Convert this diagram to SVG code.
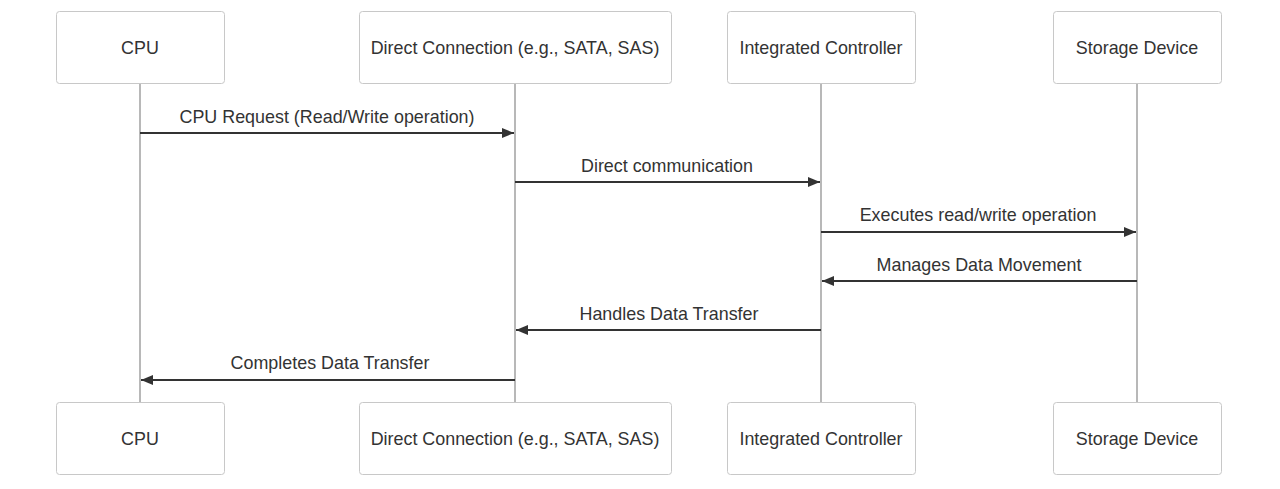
<svg xmlns="http://www.w3.org/2000/svg" width="1280" height="489" viewBox="0 0 1280 489">
<style>
.box{fill:#ffffff;stroke:#c8c8c8;stroke-width:1}
.life{stroke:#b8b8b8;stroke-width:2}
.t{font-family:"Liberation Sans",Arial,sans-serif;font-size:17.9px;fill:#333333;text-anchor:middle;dominant-baseline:central}
.msg{stroke:#333333;stroke-width:2;fill:none}
.ml{font-family:"Liberation Sans",Arial,sans-serif;font-size:17.9px;fill:#333333;text-anchor:middle}
</style>
<defs>
<marker id="ah" viewBox="0 0 12 10" refX="12" refY="5" markerWidth="12" markerHeight="10" markerUnits="userSpaceOnUse" orient="auto">
<path d="M0,0 L12,5 L0,10 z" fill="#333333"/>
</marker>
</defs>
<g id="lifelines">
<line class="life" x1="140" y1="83" x2="140" y2="402"/>
<line class="life" x1="515" y1="83" x2="515" y2="402"/>
<line class="life" x1="821" y1="83" x2="821" y2="402"/>
<line class="life" x1="1137" y1="83" x2="1137" y2="402"/>
</g>
<g id="cpu-top"><rect class="box" x="56.5" y="11.5" width="168" height="72" rx="3"/><text class="t" x="140" y="47.5">CPU</text></g>
<g id="dc-top"><rect class="box" x="359.5" y="11.5" width="312" height="72" rx="3"/><text class="t" x="515" y="47.5">Direct Connection (e.g., SATA, SAS)</text></g>
<g id="ic-top"><rect class="box" x="727.5" y="11.5" width="188" height="72" rx="3"/><text class="t" x="821" y="47.5">Integrated Controller</text></g>
<g id="sd-top"><rect class="box" x="1053.5" y="11.5" width="168" height="72" rx="3"/><text class="t" x="1137" y="47.5">Storage Device</text></g>
<g id="cpu-bottom"><rect class="box" x="56.5" y="402.5" width="168" height="72" rx="3"/><text class="t" x="140" y="438.5">CPU</text></g>
<g id="dc-bottom"><rect class="box" x="359.5" y="402.5" width="312" height="72" rx="3"/><text class="t" x="515" y="438.5">Direct Connection (e.g., SATA, SAS)</text></g>
<g id="ic-bottom"><rect class="box" x="727.5" y="402.5" width="188" height="72" rx="3"/><text class="t" x="821" y="438.5">Integrated Controller</text></g>
<g id="sd-bottom"><rect class="box" x="1053.5" y="402.5" width="168" height="72" rx="3"/><text class="t" x="1137" y="438.5">Storage Device</text></g>
<g id="connectors">
<line class="msg" x1="140" y1="133" x2="514" y2="133" marker-end="url(#ah)"/>
<text class="ml" x="327" y="123">CPU Request (Read/Write operation)</text>
<line class="msg" x1="515" y1="182" x2="820" y2="182" marker-end="url(#ah)"/>
<text class="ml" x="667" y="172">Direct communication</text>
<line class="msg" x1="821" y1="232" x2="1136" y2="232" marker-end="url(#ah)"/>
<text class="ml" x="978" y="221">Executes read/write operation</text>
<line class="msg" x1="1137" y1="281" x2="822" y2="281" marker-end="url(#ah)"/>
<text class="ml" x="979" y="271">Manages Data Movement</text>
<line class="msg" x1="821" y1="330" x2="516" y2="330" marker-end="url(#ah)"/>
<text class="ml" x="669" y="320">Handles Data Transfer</text>
<line class="msg" x1="515" y1="380" x2="141" y2="380" marker-end="url(#ah)"/>
<text class="ml" x="330" y="369">Completes Data Transfer</text>
</g>
</svg>
